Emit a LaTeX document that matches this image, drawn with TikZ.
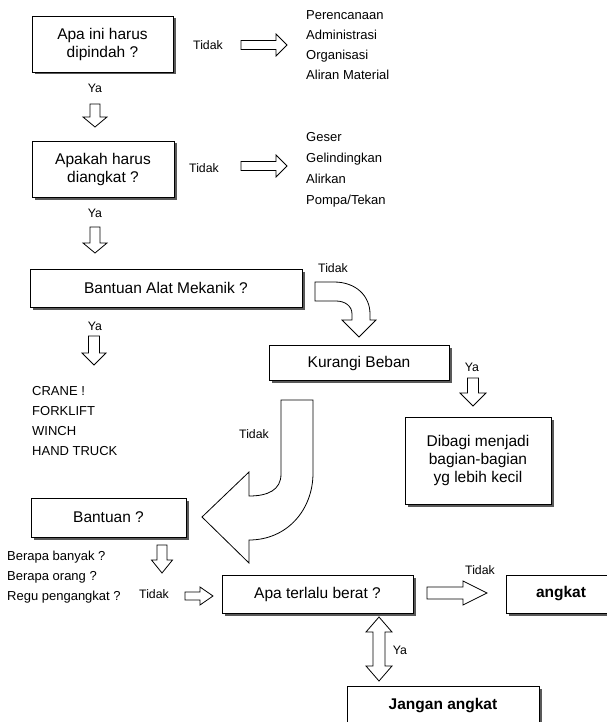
\documentclass[tikz,border=0pt]{standalone}
\usepackage{fontspec}
\setmainfont{Liberation Sans}
\usetikzlibrary{shadows}

\tikzset{
  box/.style={draw,fill=white,line width=.8pt,align=center,inner sep=0pt,
    font=\fontsize{15.5}{18}\selectfont,
    drop shadow={shadow xshift=2.5pt,shadow yshift=-2.5pt,opacity=1,fill=black!65}},
  lbl/.style={font=\fontsize{12.3}{14}\selectfont,inner sep=0pt},
  item/.style={font=\fontsize{13}{15}\selectfont,inner sep=0pt,anchor=west,
    text height=9.5pt,text depth=2.5pt},
  barrowline/.style={draw,fill=white,line width=.8pt,line join=miter},
  pics/barrow/.style args={#1/#2/#3/#4}{code={
    \draw[barrowline] (0,-#2) -- ({#1-#4},-#2) -- ({#1-#4},-#3) -- (#1,0)
      -- ({#1-#4},#3) -- ({#1-#4},#2) -- (0,#2) -- cycle;
  }}
}

\begin{document}
\begin{tikzpicture}
  [x=1pt,y=-1pt]
  \useasboundingbox (0,0) rectangle (606,722);

  \node[box,minimum width=141pt,minimum height=56pt] (pindah) at (102.5,44) {Apa ini harus\\dipindah ?};
  \node[box,minimum width=142pt,minimum height=56pt] (angkat) at (103,169) {Apakah harus\\diangkat ?};
  \node[box,minimum width=272pt,minimum height=38pt] (mekanik) at (166,288) {Bantuan Alat Mekanik ?};
  \node[box,minimum width=180pt,minimum height=35pt] (beban) at (359,363) {Kurangi Beban};
  \node[box,minimum width=146pt,minimum height=87pt] (dibagi) at (478,460.5) {Dibagi menjadi\\bagian-bagian\\yg lebih kecil};
  \node[box,minimum width=155pt,minimum height=39pt] (bantuan) at (108.5,517.5) {Bantuan ?};
  \node[box,minimum width=191pt,minimum height=38pt] (berat) at (317.5,594) {Apa terlalu berat ?};
  \node[box,minimum width=110pt,minimum height=38pt,text width=102pt] (ok) at (561,594) {\bfseries angkat\hspace*{8pt}};
  \node[box,minimum width=192pt,minimum height=40pt] (jangan) at (443,706) {\bfseries Jangan angkat};

  \foreach \t [count=\i] in {Perencanaan,Administrasi,Organisasi,Aliran Material}
    \node[item] (alt\i) at (306,-4+20*\i) {\t};
  \foreach \t [count=\i] in {Geser,Gelindingkan,Alirkan,Pompa/Tekan}
    \node[item] (cara\i) at (306,117+21*\i) {\t};
  \foreach \t [count=\i] in {CRANE !,FORKLIFT,WINCH,HAND TRUCK}
    \node[item] (alat\i) at (32,372+20*\i) {\t};
  \foreach \t [count=\i] in {Berapa banyak ?,Berapa orang ?,Regu pengangkat ?}
    \node[item] (tanya\i) at (7,537+20*\i) {\t};

  \foreach \n/\x/\y/\t in {t1/208/45/Tidak,t2/204/168/Tidak,y1/95/88/Ya,y2/95/213/Ya,
      t3/333/268/Tidak,y3/95/326/Ya,y4/472/367/Ya,t4/254/434/Tidak,t5/154/594/Tidak,
      t6/480/570/Tidak,y5/400/650/Ya}
    \node[lbl] (\n) at (\x,\y) {\t};

  \pic at (241,45) {barrow=46/4.5/11/11};
  \pic at (241,166) {barrow=46/4.5/11/11};
  \pic[rotate=-90] at (95,104) {barrow=23/5/12/10};
  \pic[rotate=-90] at (95,227) {barrow=26/5/12/10};
  \pic[rotate=-90] at (94,336) {barrow=29/5.5/12/12};
  \pic[rotate=-90] at (473,378) {barrow=28/5.5/13/13};
  \pic[rotate=-90] at (162,545) {barrow=28/5/10.5/13};
  \pic at (185,596) {barrow=28/4/9/13};
  \pic at (427,593) {barrow=60/6/12/24};

  \draw[barrowline] (379,617) -- (392,632) -- (385,632) -- (385,666) -- (392,666) -- (379,681)
    -- (366,666) -- (373,666) -- (373,632) -- (366,632) -- cycle;

  \draw[barrowline] (315,282) -- (334,282) .. controls (356,282) and (370,296) .. (370,314)
    -- (370,320) -- (376,320) -- (359,337) -- (342,320) -- (352,320) -- (352,314)
    .. controls (352,306) and (345,301) .. (336,301) -- (315,301) -- cycle;

  \draw[barrowline] (281,400) -- (313,400) -- (313,473) .. controls (313,510) and (287,540) .. (249,540)
    -- (249,563) -- (202,517) -- (249,472) -- (249,496) .. controls (268,496) and (281,490) .. (281,474)
    -- cycle;
\end{tikzpicture}
\end{document}
